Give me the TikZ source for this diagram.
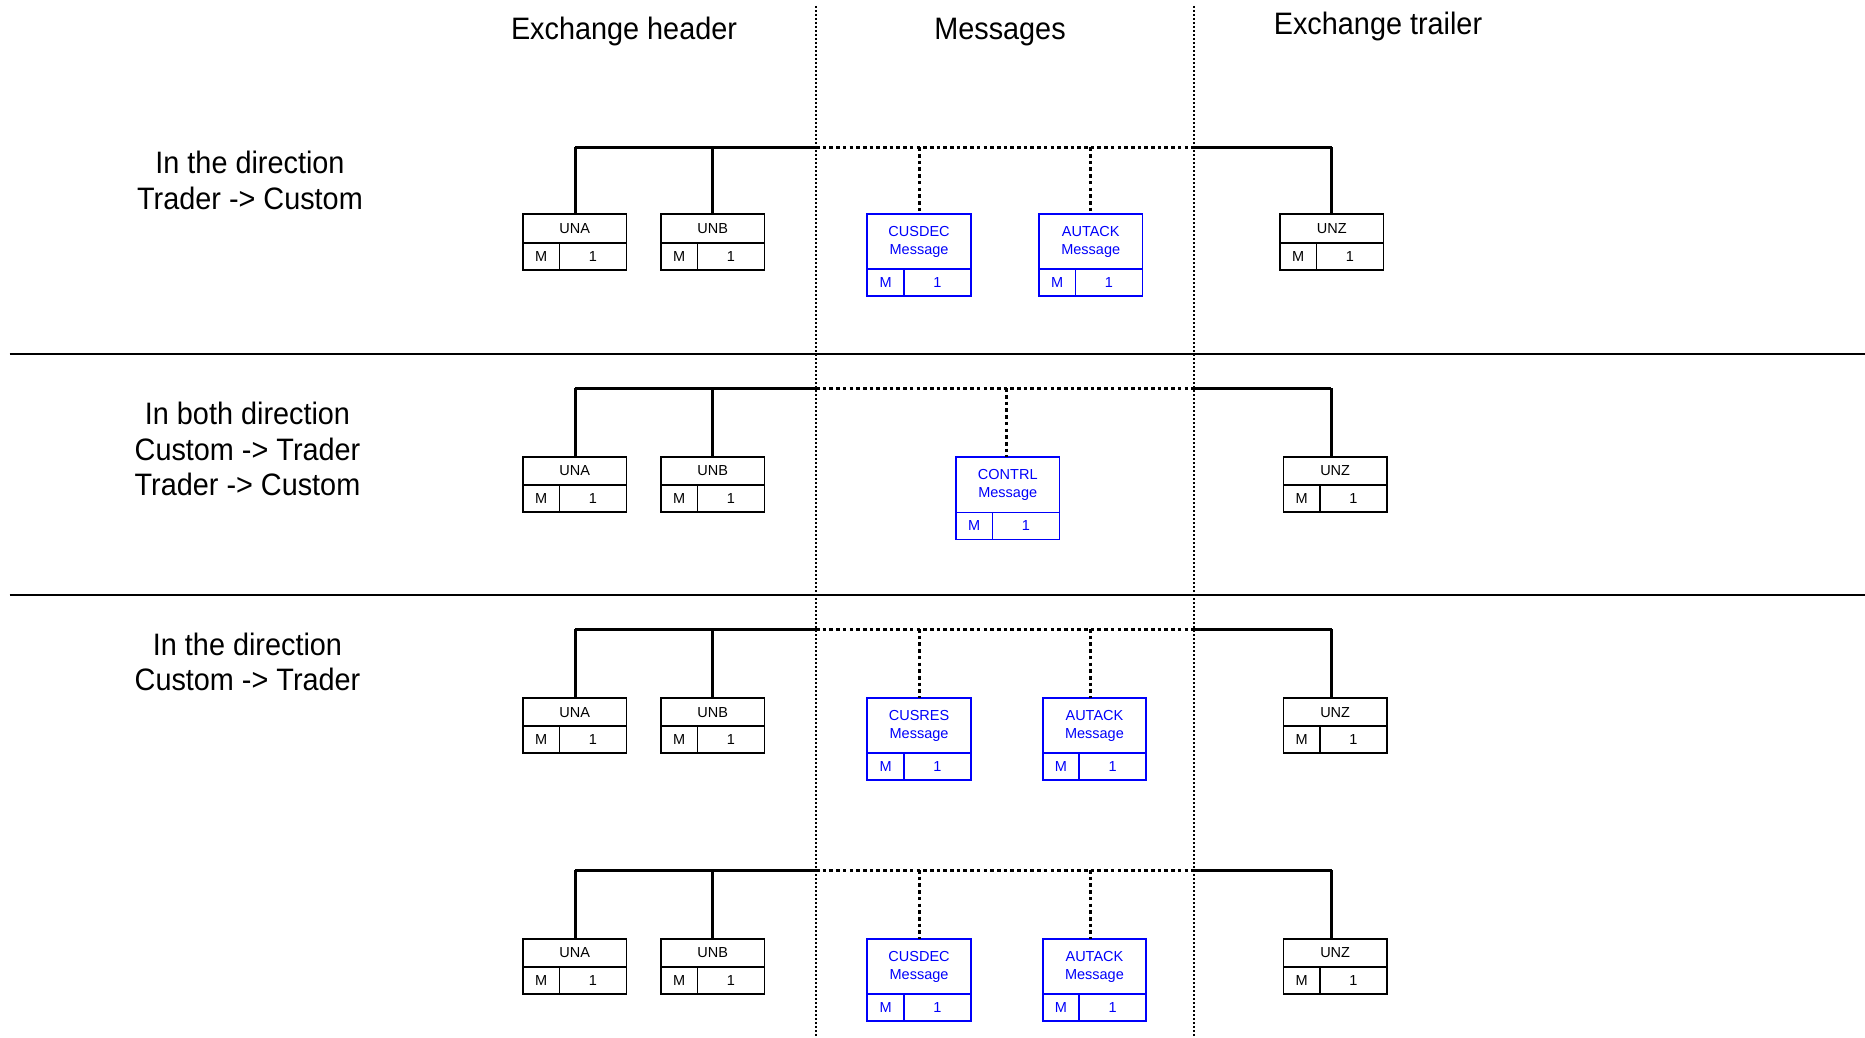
\documentclass[tikz,border=0pt]{standalone}
\usepackage{fontspec}
\setmainfont{Liberation Sans}
\newfontfamily\labfont[FakeStretch=0.93]{Liberation Sans}
\definecolor{msgblue}{RGB}{0,0,250}
\tikzset{
  lab/.style={anchor=base, inner sep=0, font=\labfont\fontsize{31}{36}\selectfont},
  cell/.style={draw, line width=1.8pt, inner sep=0, outer sep=0, anchor=north west,
    font=\fontsize{14.5}{18}\selectfont, align=center},
  bus/.style={line width=3pt},
  busdot/.style={line width=3pt, dash pattern=on 3.6pt off 3.1pt},
  divider/.style={line width=1.4pt, dash pattern=on 2pt off 2pt},
  sep/.style={line width=2.2pt},
}
% name, left x, top y, label, colour, top-cell height
\newcommand\segbox[6]{%
  \node[cell, draw=#5, text=#5, minimum width=103.5pt, minimum height=#6pt] (#1) at (#2,#3) {#4};
  \node[cell, draw=#5, text=#5, minimum width=36.5pt, minimum height=27pt] (#1-m) at (#1.south west) {M};
  \node[cell, draw=#5, text=#5, minimum width=67pt, minimum height=27pt] (#1-n) at (#1-m.north east) {1};
}
% row bus: prefix, y, right end x
\newcommand\rowbus[3]{%
  \coordinate (#1-a) at (575,#2);
  \coordinate (#1-d1) at (816,#2);
  \coordinate (#1-d2) at (1194,#2);
  \coordinate (#1-z) at (#3,#2);
  \draw[bus] (#1-a) -- (#1-d1);
  \draw[busdot] (#1-d1) -- (#1-d2);
  \draw[bus] (#1-d2) -- (#1-z);
}
\begin{document}
\begin{tikzpicture}[x=1pt,y=-1pt]
\useasboundingbox (0,0) rectangle (1865,1038);

% headers
\node[lab] (h1) at (624,39.5) {Exchange header};
\node[lab] (h2) at (1000,39.5) {Messages};
\node[lab] (h3) at (1378,35) {Exchange trailer};

% dividers
\coordinate (v1t) at (816,6); \coordinate (v1b) at (816,1038);
\coordinate (v2t) at (1194,6); \coordinate (v2b) at (1194,1038);
\draw[divider] (v1t) -- (v1b);
\draw[divider] (v2t) -- (v2b);

% separators
\coordinate (s1l) at (9.5,354); \coordinate (s1r) at (1865,354);
\coordinate (s2l) at (9.5,595); \coordinate (s2r) at (1865,595);
\draw[sep] (s1l) -- (s1r);
\draw[sep] (s2l) -- (s2r);

% side labels
\node[lab] (l1a) at (250,173.5) {In the direction};
\node[lab] (l1b) at (250,209.1) {Trader -> Custom};
\node[lab] (l2a) at (247.5,424.5) {In both direction};
\node[lab] (l2b) at (247.5,460.1) {Custom -> Trader};
\node[lab] (l2c) at (247.5,495.7) {Trader -> Custom};
\node[lab] (l3a) at (247.5,655.1) {In the direction};
\node[lab] (l3b) at (247.5,690.7) {Custom -> Trader};

% ---------- row 1 ----------
\rowbus{r1}{147.3}{1331.7}
\segbox{r1una}{523}{214.3}{UNA}{black}{28.4}
\segbox{r1unb}{661}{214.3}{UNB}{black}{28.4}
\segbox{r1m1}{867.3}{214.3}{CUSDEC\\Message}{msgblue}{55}
\segbox{r1m2}{1039}{214.3}{AUTACK\\Message}{msgblue}{55}
\segbox{r1unz}{1280}{214.3}{UNZ}{black}{28.4}
\draw[bus] (r1-a) -- (r1-a |- r1una.north);
\draw[bus] (r1unb.north |- r1-a) -- (r1unb.north);
\coordinate (r1p1) at (919,147.3);
\coordinate (r1p2) at (1090.7,147.3);
\draw[busdot] (r1p1) -- (r1p1 |- r1m1.north);
\draw[busdot] (r1p2) -- (r1p2 |- r1m2.north);
\draw[bus] (r1-z) -- (r1-z |- r1unz.north);

% ---------- row 2 ----------
\rowbus{r2}{388.3}{1331}
\segbox{r2una}{523}{457}{UNA}{black}{28}
\segbox{r2unb}{661}{457}{UNB}{black}{28}
\segbox{r2m1}{956}{457}{CONTRL\\Message}{msgblue}{55.5}
\segbox{r2unz}{1283.4}{457}{UNZ}{black}{28}
\draw[bus] (r2-a) -- (r2-a |- r2una.north);
\draw[bus] (r2unb.north |- r2-a) -- (r2unb.north);
\coordinate (r2p1) at (1006,388.3);
\draw[busdot] (r2p1) -- (r2p1 |- r2m1.north);
\draw[bus] (r2-z) -- (r2-z |- r2unz.north);

% ---------- row 3 ----------
\rowbus{r3}{629}{1331.5}
\segbox{r3una}{523}{698.3}{UNA}{black}{28}
\segbox{r3unb}{661}{698.3}{UNB}{black}{28}
\segbox{r3m1}{867.3}{698.3}{CUSRES\\Message}{msgblue}{54.5}
\segbox{r3m2}{1042.7}{698.3}{AUTACK\\Message}{msgblue}{54.5}
\segbox{r3unz}{1283.4}{698.3}{UNZ}{black}{28}
\draw[bus] (r3-a) -- (r3-a |- r3una.north);
\draw[bus] (r3unb.north |- r3-a) -- (r3unb.north);
\coordinate (r3p1) at (919,629);
\coordinate (r3p2) at (1090.5,629);
\draw[busdot] (r3p1) -- (r3p1 |- r3m1.north);
\draw[busdot] (r3p2) -- (r3p2 |- r3m2.north);
\draw[bus] (r3-z) -- (r3-z |- r3unz.north);

% ---------- row 4 ----------
\rowbus{r4}{870}{1331.7}
\segbox{r4una}{523}{939}{UNA}{black}{28}
\segbox{r4unb}{661}{939}{UNB}{black}{28}
\segbox{r4m1}{867.3}{939}{CUSDEC\\Message}{msgblue}{55}
\segbox{r4m2}{1042.7}{939}{AUTACK\\Message}{msgblue}{55}
\segbox{r4unz}{1283.4}{939}{UNZ}{black}{28}
\draw[bus] (r4-a) -- (r4-a |- r4una.north);
\draw[bus] (r4unb.north |- r4-a) -- (r4unb.north);
\coordinate (r4p1) at (919,870);
\coordinate (r4p2) at (1090.7,870);
\draw[busdot] (r4p1) -- (r4p1 |- r4m1.north);
\draw[busdot] (r4p2) -- (r4p2 |- r4m2.north);
\draw[bus] (r4-z) -- (r4-z |- r4unz.north);
\end{tikzpicture}
\end{document}
